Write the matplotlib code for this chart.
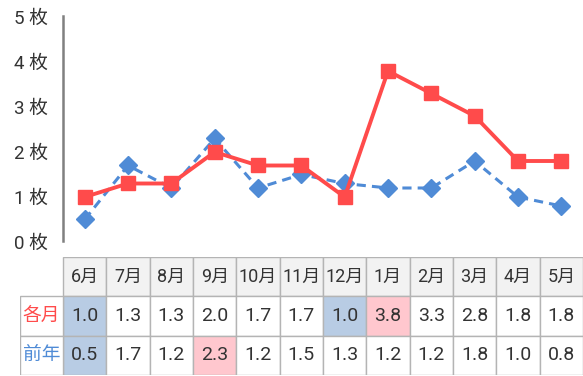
import matplotlib.pyplot as plt
from matplotlib.patches import Rectangle

plt.rcParams['font.family'] = ['Roboto', 'Noto Sans CJK JP', 'DejaVu Sans']

# データ
months = ['6月', '7月', '8月', '9月', '10月', '11月', '12月', '1月', '2月', '3月', '4月', '5月']
kakutsuki = [1.0, 1.3, 1.3, 2.0, 1.7, 1.7, 1.0, 3.8, 3.3, 2.8, 1.8, 1.8]
zennen = [0.5, 1.7, 1.2, 2.3, 1.2, 1.5, 1.3, 1.2, 1.2, 1.8, 1.0, 0.8]
row_labels = ['各月', '前年']

# 色
red = '#FF4B4B'
blue = '#4F8BD6'
cell_blue = '#B8CCE4'
cell_pink = '#FFC7CE'
header_bg = '#F2F2F2'
border = '#B4B4B4'

W, H = 583, 376
fig = plt.figure(figsize=(W / 100, H / 100), dpi=100)

# 折れ線グラフ
ax = fig.add_axes([63 / W, 1 - 242 / H, 1 - 63 / W, 225 / H])
x = list(range(len(months)))
ax.plot(x, zennen, color=blue, lw=2.2, ls=(0, (3, 2)), marker='D', ms=9.5,
        mec=blue, mfc=blue, zorder=2)
ax.plot(x, kakutsuki, color=red, lw=2.8, marker='s', ms=10,
        mec=red, mfc=red, zorder=3)
ax.set_xlim(-0.5, 11.5)
ax.set_ylim(0, 5)
ax.set_yticks(range(6))
ax.set_yticklabels([f'{i} 枚' for i in range(6)], fontsize=13.5, color='#333333')
ax.tick_params(axis='y', length=0, pad=11)
ax.set_xticks([])
for s in ['top', 'right', 'bottom']:
    ax.spines[s].set_visible(False)
ax.spines['left'].set_color('#808080')
ax.spines['left'].set_linewidth(1.8)
ax.spines['left'].set_bounds(0.03, 5.02)
ax.set_facecolor('none')

# 下の表
tx = fig.add_axes([(63 - 43.3) / W, 1 / H, 1 - (63 - 43.3) / W, 118 / H])
tx.set_xlim(-1.5, 11.5)
tx.set_ylim(0, 3)
tx.axis('off')

highlight = {(0, 0): cell_blue, (0, 6): cell_blue, (0, 7): cell_pink,
             (1, 0): cell_blue, (1, 3): cell_pink}
rows = [kakutsuki, zennen]
for j, m in enumerate(months):
    tx.add_patch(Rectangle((j - 0.5, 2), 1, 1, fc=header_bg, ec=border, lw=1))
    tx.text(j, 2.5, m, ha='center', va='center', fontsize=13, color='#333333')
    for i, vals in enumerate(rows):
        y0 = 1 - i
        fc = highlight.get((i, j), 'white')
        tx.add_patch(Rectangle((j - 0.5, y0), 1, 1, fc=fc, ec=border, lw=1))
        tx.text(j, y0 + 0.5, f'{vals[j]:.1f}', ha='center', va='center',
                fontsize=14, color='#333333')
for i, (lab, c) in enumerate(zip(row_labels, [red, blue])):
    y0 = 1 - i
    tx.add_patch(Rectangle((-1.5, y0), 1, 1, fc='white', ec=border, lw=1))
    tx.text(-1, y0 + 0.5, lab, ha='center', va='center', fontsize=13.5, color=c)

fig.savefig('out.png', dpi=100)
